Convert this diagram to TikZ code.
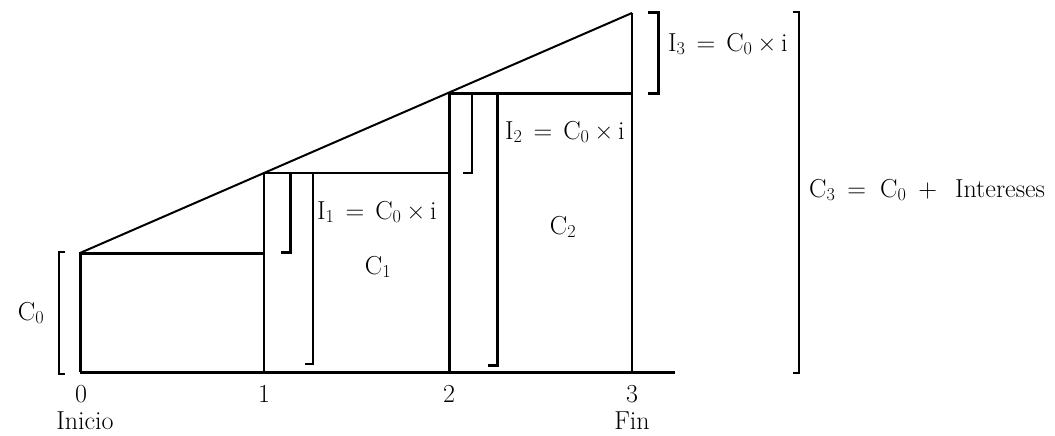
\documentclass[tikz,border=0pt]{standalone}
\usepackage{fontspec}
\setmainfont{Latin Modern Roman}
\newcommand{\sbs}[1]{\textsubscript{#1}}
\begin{document}
\begin{tikzpicture}[x=1pt,y=-1pt,
  thk/.style={line width=3pt},
  thn/.style={line width=1.2pt},
  mid/.style={line width=2pt},
  lbl/.style={font=\fontsize{26}{30}\selectfont, inner sep=0pt}]
\useasboundingbox (0,0) rectangle (1055,436);
% key points
\coordinate (O) at (80,372);
\coordinate (A0) at (80,253);
\coordinate (B1) at (264,372);
\coordinate (A1) at (264,173);
\coordinate (B2) at (449,372);
\coordinate (A2) at (449,93);
\coordinate (B3) at (632,372);
\coordinate (A3) at (632,13);
\coordinate (E) at (675,372);
% axis
\draw[thk] (O) -- (E);
% diagonal
\draw[mid] (A0) -- (A3);
% C0 rectangle
\draw[thk] (O) -- (A0) -- (264,253);
\draw[thn] (B1) -- (A1) -- (A2 |- A1);
% C1 rectangle brackets
\draw[thn] (313,173) -- (313,364) -- (305,364);
\draw[thk] (290,174) -- (290,252) -- (281,252);
% C2 rectangle
\draw[thk] (B2) -- (A2) -- (A3 |- A2);
\draw[thn] (463,93) -- (472,93) -- (472,173) -- (463,173);
\draw[thk] (497,95) -- (497,365) -- (488,365);
% C3
\draw[thn] (B3) -- (A3);
\draw[thk] (648,13) -- (658,13) -- (658,93) -- (648,93);
\draw[mid] (793,12) -- (799,12) -- (799,373) -- (793,373);
% C0 bracket
\draw[mid] (65,252) -- (59,252) -- (59,374) -- (65,374);
% labels
\node[lbl] (c0) at (31,313) {C\sbs{0}};
\node[lbl] (t0) at (81,394) {0};
\node[lbl] (t1) at (264,394) {1};
\node[lbl] (t2) at (449,394) {2};
\node[lbl] (t3) at (632,394) {3};
\node[lbl] (ini) at (85,421) {Inicio};
\node[lbl] (fin) at (632,421) {Fin};
\node[lbl,anchor=west] (i1) at (317,212) {I\sbs{1}\hspace{11pt}=\hspace{11pt}C\sbs{0}\hspace{5pt}×\hspace{5pt}i};
\node[lbl] (c1) at (378,267) {C\sbs{1}};
\node[lbl,anchor=west] (i2) at (505,132) {I\sbs{2}\hspace{11pt}=\hspace{11pt}C\sbs{0}\hspace{5pt}×\hspace{5pt}i};
\node[lbl] (c2) at (563,227) {C\sbs{2}};
\node[lbl,anchor=west] (i3) at (668,44) {I\sbs{3}\hspace{11pt}=\hspace{11pt}C\sbs{0}\hspace{5pt}×\hspace{5pt}i};
\node[lbl,anchor=west] (c3) at (809,190) {C\sbs{3}\hspace{12pt}=\hspace{14pt}C\sbs{0}\hspace{12pt}+\hspace{18pt}Intereses};
\end{tikzpicture}
\end{document}
